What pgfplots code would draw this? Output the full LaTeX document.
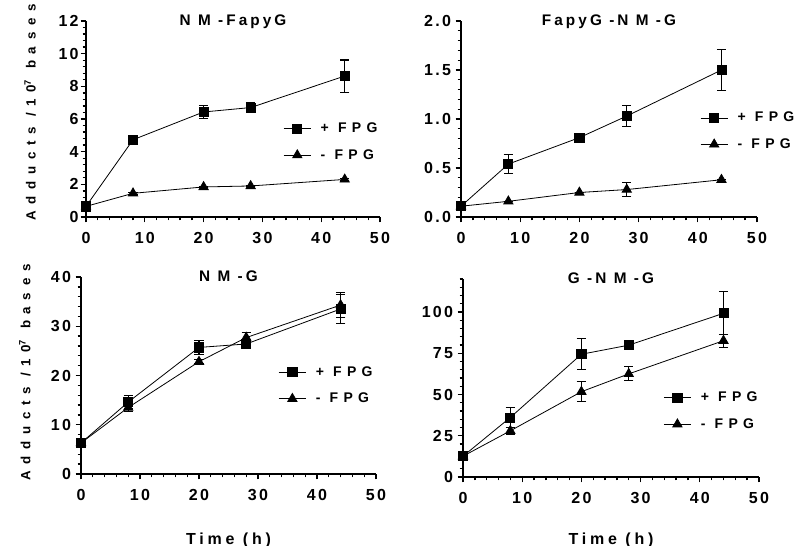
\documentclass[border=0pt]{standalone}
\usepackage{fontspec}
\usepackage{pgfplots}
\pgfplotsset{compat=1.18}
\setmainfont{Liberation Sans}
\newfontfamily\tickfont[LetterSpace=14]{Liberation Sans}
\newfontfamily\titlefont[LetterSpace=20]{Liberation Sans}
\newfontfamily\legfont[LetterSpace=38]{Liberation Sans}
\newfontfamily\ylabfont[LetterSpace=50]{Liberation Sans}
\newfontfamily\xlabfont[LetterSpace=24]{Liberation Sans}

\pgfplotsset{
  panel/.style={
    scale only axis,
    axis lines=left,
    axis line style={-, line width=1.2pt},
    xmin=0, xmax=50,
    xtick={0,10,...,50},
    minor x tick num=4,
    minor y tick num=4,
    tick align=outside,
    major tick length=4pt,
    minor tick length=2.5pt,
    every tick/.style={black, line width=1pt},
    /pgf/number format/assume math mode=true,
    tick label style={font=\tickfont\bfseries\fontsize{12}{14}\selectfont},
    xticklabel style={yshift=-4pt},
    title style={at={(0.5,1)}, anchor=north, yshift=2pt, font=\titlefont\bfseries\fontsize{11.5}{13}\selectfont},
    clip=false,
    legend style={draw=none, fill=none, inner sep=0pt, anchor=west,
      font=\legfont\bfseries\fontsize{10.5}{12}\selectfont,
      row sep=7pt, column sep=5pt},
    legend cell align=left,
    legend image code/.code={\draw[mark repeat=2,mark phase=2] plot coordinates {(0cm,0cm) (0.36cm,0cm) (0.72cm,0cm)};},
  },
  plusfpg/.style={black, line width=0.6pt, mark=square*, mark size=3.4pt, mark options={solid, fill=black},
    error bars/.cd, y dir=both, y explicit,
    error bar style={line width=0.8pt, black},
    error mark options={rotate=90, mark size=3.5pt, line width=0.8pt, black}},
  minusfpg/.style={black, line width=0.6pt, mark=triangle*, mark size=4pt, mark options={solid, fill=black},
    error bars/.cd, y dir=both, y explicit,
    error bar style={line width=0.8pt, black},
    error mark options={rotate=90, mark size=3.5pt, line width=0.8pt, black}},
  ylab/.style={ylabel={Adducts /10\textsuperscript{7} bases},
    ylabel style={at={(axis description cs:-0.19,#1)}, anchor=center,
      font=\ylabfont\bfseries\fontsize{10}{12}\selectfont}},
  xlab/.style={xlabel={Time (h)},
    xlabel style={at={(axis description cs:0.5,#1)}, anchor=center,
      font=\xlabfont\bfseries\fontsize{12}{14}\selectfont}},
}

\begin{document}
\begin{tikzpicture}
\useasboundingbox (0,0) rectangle (600pt,409.5pt);

% Panel 1: NM-FapyG
\begin{axis}[panel, ylab=0.533, at={(64.5pt,246.75pt)}, anchor=south west,
  width=220.5pt, height=147pt,
  ymin=0, ymax=12, ytick={0,2,...,12},
  yticklabel style={xshift=2pt},
  title={N M -FapyG},
  legend style={at={(0.67,0.383)}}]
\addplot+[plusfpg] table[x=t, y=v, y error=e] {
t v e
0 0.65 0.1
8 4.73 0.15
20 6.43 0.38
28 6.70 0.32
44 8.63 0.98
};
\addlegendentry{+ FPG}
\addplot+[minusfpg] table[x=t, y=v, y error=e] {
t v e
0 0.65 0
8 1.45 0.05
20 1.84 0.05
28 1.90 0.05
44 2.30 0.05
};
\addlegendentry{- FPG}
\end{axis}

% Panel 2: FapyG-NM-G
\begin{axis}[panel, at={(345.75pt,246.75pt)}, anchor=south west,
  width=222pt, height=147pt,
  ymin=0, ymax=2, ytick={0,0.5,...,2},
  yticklabel style={/pgf/number format/.cd, fixed, fixed zerofill, precision=1},
  title={FapyG -N M -G},
  legend style={at={(0.807,0.438)}}]
\addplot+[plusfpg] table[x=t, y=v, y error=e] {
t v e
0 0.11 0
8 0.54 0.095
20 0.81 0.02
28 1.03 0.11
44 1.50 0.21
};
\addlegendentry{+ FPG}
\addplot+[minusfpg] table[x=t, y=v, y error=e] {
t v e
0 0.11 0
8 0.16 0
20 0.25 0
28 0.28 0.075
44 0.38 0
};
\addlegendentry{- FPG}
\end{axis}

% Panel 3: NM-G
\begin{axis}[panel, ylab=0.515, xlab=-0.335, at={(60.75pt,54pt)}, anchor=south west,
  width=221.25pt, height=147.75pt,
  ymin=0, ymax=40, ytick={0,10,...,40},
  title={N M -G},
  legend style={at={(0.668,0.449)}}]
\addplot+[plusfpg] table[x=t, y=v, y error=e] {
t v e
0 6.3 0.5
8 14.6 1.3
20 25.7 1.4
28 26.4 0.8
44 33.5 3.0
};
\addlegendentry{+ FPG}
\addplot+[minusfpg] table[x=t, y=v, y error=e] {
t v e
0 6.3 0
8 13.5 0.8
20 22.8 0.4
28 27.7 1.1
44 34.3 2.5
};
\addlegendentry{- FPG}
\end{axis}

% Panel 4: G-NM-G
\begin{axis}[panel, xlab=-0.318, at={(347.25pt,51.75pt)}, anchor=south west,
  width=222pt, height=148.5pt,
  ymin=0, ymax=120, ytick={0,25,...,100},
  minor ytick={5,10,15,20,30,35,40,45,55,60,65,70,80,85,90,95,105,110,115,120},
  minor y tick num=0,
  title={G -N M -G},
  legend style={at={(0.676,0.333)}}]
\addplot+[plusfpg] table[x=t, y=v, y error=e] {
t v e
0 12.6 1
8 36.1 6
20 74.4 9.5
28 79.9 2
44 99.2 13
};
\addlegendentry{+ FPG}
\addplot+[minusfpg] table[x=t, y=v, y error=e] {
t v e
0 12.6 0
8 28.0 2
20 51.7 6
28 62.5 4.2
44 82.6 4
};
\addlegendentry{- FPG}
\end{axis}
\end{tikzpicture}
\end{document}
